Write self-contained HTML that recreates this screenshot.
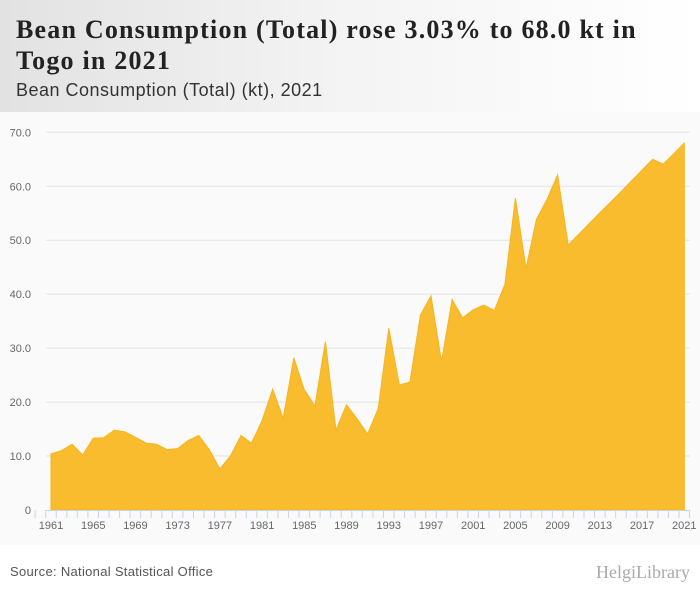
<!DOCTYPE html>
<html><head><meta charset="utf-8"><style>
body{margin:0;width:700px;height:596px;overflow:hidden;background:#fff;font-family:"Liberation Sans",sans-serif}
#hdr{position:absolute;left:0;top:0;width:700px;height:112px;background:linear-gradient(90deg,#e2e2e2 0%,#f4f4f4 50%,#fff 100%)}
#title{position:absolute;left:16px;top:14px;font:bold 26px/31px "Liberation Serif",serif;letter-spacing:1.2px;color:#222;margin:0}
#sub{position:absolute;left:16px;top:80px;font-size:18px;letter-spacing:0.5px;color:#333}
#chart{position:absolute;left:0;top:112px}
#src{position:absolute;left:10px;top:564px;font-size:13px;letter-spacing:0.3px;color:#555}
#logo{position:absolute;right:10px;top:562px;font:18px "Liberation Serif",serif;color:#aaa}
</style></head><body>
<div id="hdr"></div>
<h1 id="title">Bean Consumption (Total) rose 3.03% to 68.0 kt in<br>Togo in 2021</h1>
<div id="sub">Bean Consumption (Total) (kt), 2021</div>
<svg id="chart" width="700" height="435"></svg>
<div id="src">Source: National Statistical Office</div>
<div id="logo">HelgiLibrary</div>
<script>
const years=[];for(let y=1961;y<=2021;y++)years.push(y);
const values=[10.4,11.0,12.2,10.2,13.3,13.4,14.8,14.5,13.5,12.4,12.2,11.2,11.4,12.9,13.8,11.2,7.6,10.0,13.8,12.4,16.6,22.4,17.0,28.2,22.3,19.3,31.2,14.8,19.5,16.9,14.1,18.8,33.7,23.2,23.7,36.1,39.7,27.5,39.0,35.6,37.1,38.0,37.0,41.8,57.8,44.8,53.9,57.6,62.1,49.1,51.1,53.1,55.1,57.0,59.0,61.0,63.0,65.0,64.1,66.0,68.0];
const yTicks=[0,10,20,30,40,50,60,70];
const yTickLabels=["0","10.0","20.0","30.0","40.0","50.0","60.0","70.0"];
const xTickYears=[1961,1965,1969,1973,1977,1981,1985,1989,1993,1997,2001,2005,2009,2013,2017,2021];
const NS="http://www.w3.org/2000/svg",svg=document.getElementById('chart');
const OY=112,x0=51,x1=684.3,yb=510-OY,yt=132.3-OY;
const X=y=>x0+(y-1961)*(x1-x0)/60, Y=v=>yb-(v/70)*(yb-yt);
function mk(t,a){const e=document.createElementNS(NS,t);for(const k in a)e.setAttribute(k,a[k]);svg.appendChild(e);return e;}
const bg=mk('rect',{x:0,y:0,width:700,height:433,fill:'#fafafa'});


yTicks.forEach((v,i)=>{
 if(v>0){const g=mk('line',{x1:46,x2:690,y1:Y(v),y2:Y(v),stroke:'#e3e3e3','stroke-width':1});
 
 }
 const t=mk('text',{x:31,y:Y(v)+4,'text-anchor':'end','font-size':11,fill:'#666'});t.textContent=yTickLabels[i];
 
 
});
let d='M'+X(years[0])+','+Y(0);
years.forEach((y,i)=>{d+='L'+X(y).toFixed(1)+','+Y(values[i]).toFixed(1);});
d+='L'+X(years[years.length-1])+','+Y(0)+'Z';
const area=mk('path',{d:d,fill:'#f9bc2f',stroke:'#f6b51e','stroke-width':1});


const ax=mk('line',{x1:45,x2:690,y1:yb+0.5,y2:yb+0.5,stroke:'#c8d4e8'});


for(let y=1960;y<=2022;y++){
 const tk=mk('line',{x1:X(y)-5.3,x2:X(y)-5.3,y1:yb,y2:yb+8,stroke:'#c8d4e8'});
 
 }
xTickYears.forEach(y=>{const t=mk('text',{x:X(y),y:yb+19,'text-anchor':'middle','font-size':11,fill:'#666'});t.textContent=y;
 
 });
</script>
</body></html>
